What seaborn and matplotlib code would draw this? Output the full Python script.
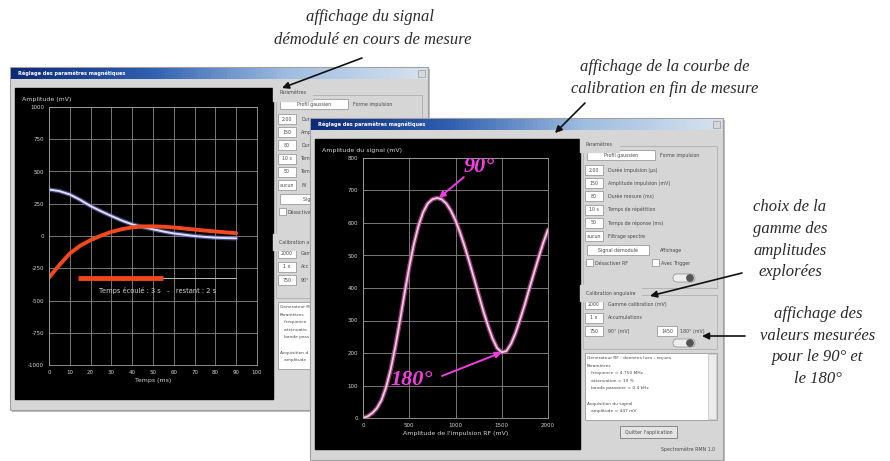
import matplotlib.pyplot as plt
import seaborn as sns
from matplotlib.colors import LinearSegmentedColormap
from matplotlib.patches import Circle, FancyBboxPatch, Rectangle

W, H = 890, 461

# left window : demodulated signal while the measurement runs
temps_ms = [0, 5, 10, 15, 20, 25, 30, 35, 40, 45, 50, 55, 60, 65, 70, 75, 80, 85, 90]
signal_bleu_mv = [360, 348, 322, 280, 232, 192, 155, 120, 90, 70, 52, 35, 20, 10, 0, -7, -13, -16, -18]
signal_rouge_mv = [-322, -225, -135, -75, -32, 3, 32, 53, 67, 74, 75, 72, 66, 58, 50, 42, 35, 28, 22]
progress_done_ms = [14, 55]
progress_left_ms = [55, 90]
progress_level_mv = -322
progress_text = "Temps écoulé : 3 s   -   restant : 2 s"
left_xticks = list(range(0, 101, 10))
left_yticks = [-1000, -750, -500, -250, 0, 250, 500, 750, 1000]

# right window : calibration curve at the end of the measurement
impulsion_mv = [0, 50, 100, 150, 200, 250, 300, 350, 400, 450, 500, 550, 600, 650,
                700, 750, 800, 850, 900, 950, 1000, 1050, 1100, 1150, 1200, 1250,
                1300, 1350, 1400, 1450, 1500, 1550, 1600, 1650, 1700, 1750, 1800,
                1850, 1900, 1950, 2000]
amplitude_signal_mv = [0, 5, 15, 30, 55, 95, 150, 220, 300, 385, 465, 535, 592, 633,
                       660, 673, 677, 673, 660, 638, 608, 570, 527, 480, 430, 380,
                       330, 285, 245, 215, 202, 206, 228, 262, 305, 350, 400,
                       448, 495, 540, 580]
angle_90 = (820, 677)
angle_180 = (1500, 202)
right_xticks = [0, 500, 1000, 1500, 2000]
right_yticks = [0, 100, 200, 300, 400, 500, 600, 700, 800]

# control panel content (same dialog for both windows)
param_values = ["2.00", "150", "80", "10 s", "50", "aucun"]
param_labels = ["Durée impulsion (µs)", "Amplitude impulsion (mV)", "Durée mesure (ms)",
                "Temps de répétition", "Temps de réponse (ms)", "Filtrage spectre"]
calib_values = ["2000", "1 x"]
calib_labels = ["Gamme calibration (mV)", "Accumulations"]
info_lines = ["Générateur RF : données lues - reçues", "Paramètres",
              "   fréquence = 4.750 MHz", "   atténuation = 10 %",
              "   bande passante = 0.4 kHz", "", "Acquisition du signal",
              "   amplitude = 447 mV"]

sns.set_theme(style="dark")
plt.rcParams["font.family"] = ["DejaVu Sans"]
plt.rcParams["axes.unicode_minus"] = False

BODY = "#d6d6d6"
UI_TEXT = "#4a4a4a"
MAGENTA = "#f23ee0"
title_cmap = LinearSegmentedColormap.from_list(
    "title", ["#0c2a78", "#2f5fb0", "#9fbde0", "#d6e2ee"])

fig = plt.figure(figsize=(W / 100, H / 100), dpi=100)
fig.patch.set_facecolor("white")


def make_canvas(z):
    c = fig.add_axes([0, 0, 1, 1])
    c.axis("off")
    c.set_zorder(z)
    return c


def finish_canvas(c):
    c.set_xlim(0, W)
    c.set_ylim(H, 0)


def px_axes(x0, y0, x1, y1, z):
    ax = fig.add_axes([x0 / W, 1 - y1 / H, (x1 - x0) / W, (y1 - y0) / H])
    ax.set_zorder(z)
    return ax


def toggle(c, x, y):
    c.add_patch(FancyBboxPatch((x, y), 22, 8, boxstyle="round,pad=0,rounding_size=4",
                               facecolor="#eeeeee", edgecolor="#8a8a8a", lw=0.5))
    c.add_patch(Circle((x + 17, y + 4), 3.2, color="#555555"))


def draw_window(c, x, y, w, h, panel_x, cover=None):
    """Draw one dialog; `cover` is the top-left corner of a window lying on top."""

    def ui_text(tx, ty, s, size=3.4, ha="left", **kw):
        if cover is not None and ty >= cover[1] - 3:
            left = tx if ha == "left" else tx - len(s) * 1.2
            if left >= cover[0]:
                return
            keep = int((cover[0] - left) / 2.3)
            if keep < len(s):
                s = s[:max(keep, 1)]
        c.text(tx, ty, s, fontsize=size, color=UI_TEXT, va="center", ha=ha, **kw)

    def white_box(bx, by, bw, bh, label=None):
        c.add_patch(Rectangle((bx, by), bw, bh, facecolor="white",
                              edgecolor="#8c8c8c", lw=0.5))
        if label:
            ui_text(bx + bw / 2, by + bh / 2, label, ha="center")

    c.add_patch(Rectangle((x + 2, y + 2), w, h, color="#bdbdbd", lw=0))
    c.add_patch(Rectangle((x, y), w, h, facecolor=BODY, edgecolor="#a0a0a0", lw=0.8))
    c.imshow([[i / 99 for i in range(100)]], extent=(x + 1, x + w - 1, y + 12, y + 1),
             aspect="auto", cmap=title_cmap, zorder=2)
    c.text(x + 8, y + 6.5, "Réglage des paramètres magnétiques", color="white",
           fontsize=3.6, fontweight="bold", va="center", zorder=3)
    c.add_patch(Rectangle((x + w - 10, y + 3), 7, 7, facecolor="#d8d8d8",
                          edgecolor="#888888", lw=0.4, zorder=3))
    # black plotting area
    c.add_patch(Rectangle((x + 5, y + 21), panel_x - x - 5, h - 32, color="black"))

    # right hand control panel
    p = panel_x
    right = x + w - 6
    c.add_patch(Rectangle((p + 3, y + 28), right - p - 3, 142, fill=False,
                          edgecolor="#a8a8a8", lw=0.5))
    ui_text(p + 6, y + 26, "Paramètres", backgroundcolor=BODY)
    white_box(p + 7, y + 32, 68, 10, "Profil gaussien")
    ui_text(p + 80, y + 37, "Forme impulsion")
    for i, (val, lab) in enumerate(zip(param_values, param_labels)):
        ry = y + 52 + i * 13.2
        white_box(p + 5, ry - 5, 18, 10, val)
        ui_text(p + 28, ry, lab)
    white_box(p + 7, y + 127, 62, 10, "Signal démodulé")
    ui_text(p + 80, y + 132, "Affichage")
    white_box(p + 6, y + 141, 7, 7)
    ui_text(p + 15, y + 145, "Désactiver RF")
    white_box(p + 72, y + 141, 7, 7)
    ui_text(p + 81, y + 145, "Avec Trigger")
    toggle(c, p + 93, y + 156)

    c.add_patch(Rectangle((p + 3, y + 177), right - p - 3, 54, fill=False,
                          edgecolor="#a8a8a8", lw=0.5))
    ui_text(p + 6, y + 175, "Calibration angulaire", backgroundcolor=BODY)
    for i, (val, lab) in enumerate(zip(calib_values, calib_labels)):
        ry = y + 186 + i * 13.5
        white_box(p + 5, ry - 5, 18, 10, val)
        ui_text(p + 28, ry, lab)
    white_box(p + 5, y + 208, 18, 10, "750")
    ui_text(p + 28, y + 213, "90° (mV)")
    white_box(p + 77, y + 208, 20, 10, "1450")
    ui_text(p + 100, y + 213, "180° (mV)")
    toggle(c, p + 93, y + 221)

    white_box(p + 5, y + 235, right - p - 5, 67)
    c.add_patch(Rectangle((right - 9, y + 236), 8, 65, facecolor="#ececec",
                          edgecolor="#b0b0b0", lw=0.4))
    for i, line in enumerate(info_lines):
        if line:
            ui_text(p + 7, y + 240 + i * 7.6, line, size=3.2)
    c.add_patch(Rectangle((p + 40, y + 308), 57, 12, facecolor="#e4e4e4",
                          edgecolor="#7a7a7a", lw=0.6))
    ui_text(p + 68.5, y + 314, "Quitter l'application", ha="center")
    ui_text(right - 2, y + 331, "Spectromètre RMN 1.0", ha="right")


def style_axes(ax):
    ax.set_facecolor("black")
    ax.grid(True, color="#8a8a8a", lw=0.6)
    ax.tick_params(colors="#d4d4d4", labelsize=4, length=2, width=0.5, pad=1.5)
    for s in ax.spines.values():
        s.set_color("#a0a0a0")
        s.set_linewidth(0.6)
    ax.xaxis.label.set_color("#d4d4d4")
    ax.yaxis.label.set_color("#d4d4d4")


# ---- window 1 (partly hidden by window 2) ----
c1 = make_canvas(1)
draw_window(c1, 10, 67, 418, 343, 273, cover=(310, 118))
finish_canvas(c1)

ax1 = px_axes(49, 107, 257, 365, 2)
style_axes(ax1)
sns.lineplot(x=temps_ms, y=signal_bleu_mv, ax=ax1, color="#6f74c8", lw=3.2, alpha=0.6)
sns.lineplot(x=temps_ms, y=signal_bleu_mv, ax=ax1, color="#dadeff", lw=1.4)
sns.lineplot(x=temps_ms, y=signal_rouge_mv, ax=ax1, color="#f4481e", lw=2.8)
ax1.plot(progress_done_ms, [progress_level_mv] * 2, color="#f0461c", lw=3.5,
         solid_capstyle="butt")
ax1.plot(progress_left_ms, [progress_level_mv] * 2, color="#bdbdbd", lw=0.7)
ax1.text(52, -420, progress_text, color="#d4d4d4", fontsize=4.8, ha="center", va="center")
ax1.set_xlim(0, 100)
ax1.set_ylim(-1000, 1000)
ax1.set_xticks(left_xticks)
ax1.set_yticks(left_yticks)
ax1.set_xlabel("Temps (ms)", fontsize=4.5, labelpad=2)
ax1.set_ylabel("Amplitude (mV)", fontsize=4.5, rotation=0, ha="left", va="bottom")
ax1.yaxis.set_label_coords(-0.13, 1.02)

# ---- window 2 ----
c2 = make_canvas(3)
draw_window(c2, 310, 118, 413, 342, 580)
finish_canvas(c2)

ax2 = px_axes(363, 158, 548, 418, 4)
style_axes(ax2)
sns.lineplot(x=impulsion_mv, y=amplitude_signal_mv, ax=ax2, color="#b04e8e", lw=3.2, alpha=0.8)
sns.lineplot(x=impulsion_mv, y=amplitude_signal_mv, ax=ax2, color="#f6c8e6", lw=1.3)
ax2.set_xlim(0, 2000)
ax2.set_ylim(0, 800)
ax2.set_xticks(right_xticks)
ax2.set_yticks(right_yticks)
ax2.set_xlabel("Amplitude de l'impulsion RF (mV)", fontsize=4.5, labelpad=2)
ax2.set_ylabel("Amplitude du signal (mV)", fontsize=4.5, rotation=0, ha="left", va="bottom")
ax2.yaxis.set_label_coords(-0.22, 1.02)

arrow_m = dict(arrowstyle="-|>", color=MAGENTA, lw=1.4, mutation_scale=9, shrinkA=0, shrinkB=0)
ax2.annotate("", xy=angle_90, xytext=(18, 15), textcoords="offset points", arrowprops=arrow_m)
ax2.annotate("90°", xy=angle_90, xytext=(29, 22), textcoords="offset points",
             color=MAGENTA, fontsize=16, fontweight="bold", style="italic",
             family="Liberation Serif", ha="center", va="center")
ax2.annotate("", xy=angle_180, xytext=(-43, -17), textcoords="offset points", arrowprops=arrow_m)
ax2.annotate("180°", xy=angle_180, xytext=(-65, -20), textcoords="offset points",
             color=MAGENTA, fontsize=16, fontweight="bold", style="italic",
             family="Liberation Serif", ha="center", va="center")

# ---- outer annotations ----
top = make_canvas(10)
notes = [
    (370, 17, "affichage du signal"),
    (373, 40, "démodulé en cours de mesure"),
    (665, 67, "affichage de la courbe de"),
    (665, 89, "calibration en fin de mesure"),
    (790, 207, "choix de la"),
    (790, 229, "gamme des"),
    (790, 251, "amplitudes"),
    (790, 272, "explorées"),
    (818, 314, "affichage des"),
    (818, 336, "valeurs mesurées"),
    (818, 357, "pour le 90° et"),
    (818, 379, "le 180°"),
]
for x, y, s in notes:
    top.text(x, y, s, fontsize=12, style="italic", family="Liberation Serif",
             color="#2a2a2a", ha="center", va="center")
for tail, head in [((362, 58), (282, 88)), ((585, 103), (555, 133)),
                   ((742, 273), (650, 296)), ((745, 336), (702, 336))]:
    top.annotate("", xy=head, xytext=tail,
                 arrowprops=dict(arrowstyle="-|>", color="#111111", lw=1.2,
                                 mutation_scale=10, shrinkA=0, shrinkB=0))
finish_canvas(top)

fig.savefig("out.png", dpi=100)
